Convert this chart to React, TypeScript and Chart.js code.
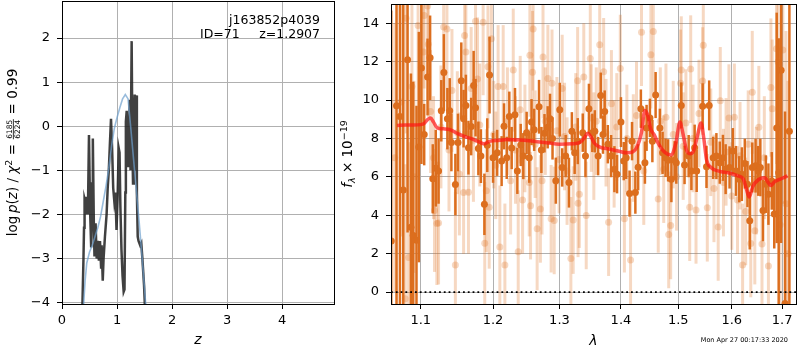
import React, { useEffect, useRef } from "react";
import { Chart, registerables } from "chart.js";
Chart.register(...registerables);

// ---------- left panel: log p(z) ----------
const zTicks = [0, 1, 2, 3, 4];
const logpTicks = [-4, -3, -2, -1, 0, 1, 2];
const smoothZ = [0.39, 0.42, 0.45, 0.5, 0.55, 0.6, 0.65, 0.7, 0.75, 0.8, 0.85, 0.9, 0.95, 1.0, 1.05, 1.1, 1.15, 1.2, 1.25, 1.3, 1.35, 1.4, 1.45, 1.5, 1.53];
const smoothLogP = [-4.1, -3.5, -3.1, -2.85, -2.7, -2.5, -2.3, -2.05, -1.7, -1.35, -0.95, -0.45, -0.05, 0.2, 0.42, 0.62, 0.72, 0.62, -0.05, -0.75, -1.45, -2.15, -2.9, -3.7, -4.2];
const noisyZ = [0.37, 0.39, 0.40, 0.41, 0.42, 0.43, 0.44, 0.45, 0.46, 0.47, 0.49, 0.51, 0.53, 0.545, 0.56, 0.58, 0.59, 0.61, 0.63, 0.65, 0.67, 0.69, 0.71, 0.72, 0.74, 0.755, 0.78, 0.81, 0.83, 0.85, 0.87, 0.89, 0.91, 0.93, 0.95, 0.97, 0.99, 1.01, 1.03, 1.045, 1.06, 1.08, 1.10, 1.12, 1.135, 1.15, 1.16, 1.175, 1.19, 1.20, 1.215, 1.23, 1.245, 1.265, 1.28, 1.29, 1.305, 1.32, 1.335, 1.345, 1.36, 1.375, 1.39, 1.42, 1.44, 1.46, 1.49, 1.51];
const noisyLogP = [-4.1, -3.0, -2.3, -1.65, -1.7, -2.0, -1.6, -2.0, -1.7, -2.0, -0.2, -1.9, -2.75, -1.3, -0.28, -2.4, -2.95, -2.2, -3.0, -2.6, -3.05, -2.6, -3.2, -2.7, -3.5, -3.0, -2.5, -2.0, -1.4, -1.0, -0.4, 0.17, -0.5, -1.4, -1.7, -1.5, -2.35, -1.6, -0.5, -0.6, -1.8, -2.8, -3.4, -3.75, -3.7, -1.5, 0.1, 0.35, -0.3, -0.9, -0.2, 0.6, -1.0, 1.93, -0.6, -1.3, 0.0, 0.72, -1.0, 0.7, -1.5, -2.5, -2.6, -2.7, -2.65, -3.0, -3.6, -4.2];

// ---------- right panel: spectrum ----------
const lamTicks = [1.1, 1.2, 1.3, 1.4, 1.5, 1.6, 1.7];
const fluxTicks = [0, 2, 4, 6, 8, 10, 12, 14];

const darkLam = [
  1.0615, 1.0683, 1.0727, 1.077, 1.0826, 1.087, 1.09, 1.0943, 1.0974, 1.1008,
  1.1045, 1.109, 1.1124, 1.116, 1.12, 1.1238, 1.1275, 1.131, 1.1358, 1.139,
  1.1413, 1.1468, 1.1504, 1.155, 1.1582, 1.1614, 1.165, 1.1688, 1.1723, 1.175,
  1.179, 1.1826, 1.1876, 1.1917, 1.195, 1.2, 1.206, 1.2125, 1.216, 1.22,
  1.2238, 1.2273, 1.2322, 1.2357, 1.2407, 1.2446, 1.2496, 1.2535, 1.257, 1.261,
  1.2684, 1.272, 1.2768, 1.2817, 1.2853, 1.2892, 1.2943, 1.3005, 1.3043, 1.3098,
  1.315, 1.3196, 1.324, 1.329, 1.337, 1.3414, 1.347, 1.3525, 1.3566, 1.362,
  1.3663, 1.37, 1.3728, 1.378, 1.3835, 1.389, 1.3934, 1.4, 1.4047, 1.4088,
  1.4146, 1.4188, 1.4245, 1.4293, 1.434, 1.441, 1.4439, 1.4497, 1.454, 1.4597,
  1.4672, 1.472, 1.4773, 1.4818, 1.4877, 1.4935, 1.4965, 1.5055, 1.5115, 1.519,
  1.524, 1.53, 1.5337, 1.5448, 1.552, 1.557, 1.5645, 1.5706, 1.577, 1.583,
  1.5882, 1.5957, 1.602, 1.608, 1.6145, 1.6195, 1.6253, 1.6305, 1.635, 1.64,
  1.6465, 1.6517, 1.656, 1.6613, 1.667, 1.6722, 1.679, 1.684, 1.689, 1.693,
  1.698, 1.706, 1.715,
];
const darkFlux = [
  2.66, 9.7, 9.14, 5.31, 12.1, 3.38, 2.95, 2.7, 7.55, 11.67,
  8.2, 11.2, 12.2, 5.9, 6.45, 6.3, 9.44, 11.43, 9.03, 9.44,
  7.79, 5.6, 7.79, 11.0, 9.03, 9.72, 7.52, 8.62, 10.76, 9.6,
  7.48, 7.08, 4.57, 7.65, 11.3, 6.99, 7.25, 6.82, 8.63, 6.99,
  9.14, 7.5, 9.23, 6.31, 7.66, 7.08, 8.29, 6.99, 8.85, 8.45,
  9.65, 7.4, 8.27, 8.58, 9.03, 8.0, 5.8, 9.5, 6.49, 7.08,
  5.7, 8.37, 7.25, 7.86, 8.3, 7.08, 9.55, 8.29, 8.37, 7.08,
  10.23, 8.2, 9.4, 7.7, 7.08, 6.4, 6.14, 8.85, 6.82, 6.99,
  5.13, 7.86, 5.18, 6.5, 9.55, 6.74, 8.55, 9.07, 7.86, 10.26,
  8.55, 7.25, 6.99, 6.86, 5.88, 6.86, 6.74, 9.72, 6.62, 7.08,
  6.31, 7.52, 6.31, 9.67, 6.52, 9.72, 6.99, 7.08, 6.74, 6.99,
  6.4, 6.49, 7.34, 6.31, 5.88, 6.14, 6.69, 5.62, 3.72, 6.49,
  6.58, 6.31, 6.49, 4.25, 5.62, 5.1, 5.79, 4.07, 8.55, 6.22,
  11.55, -0.6, 8.37,
];
const darkErr = [
  12, 11, 10, 10, 9, 8, 8, 7, 6, 5,
  1.6, 2.0, 2.2, 1.8, 2.0, 1.7, 1.6, 2.0, 1.6, 1.7,
  1.5, 1.6, 1.5, 2.0, 1.5, 1.6, 1.4, 1.5, 1.8, 1.5,
  1.4, 1.4, 1.6, 1.4, 2.0, 1.3, 1.2, 1.3, 1.2, 1.1,
  1.3, 1.1, 1.4, 1.2, 1.1, 1.2, 1.1, 1.3, 1.2, 1.1,
  1.4, 1.2, 1.0, 1.1, 1.3, 1.1, 1.2, 1.4, 1.0, 1.1,
  1.3, 1.0, 1.1, 1.2, 1.0, 1.1, 1.3, 1.0, 1.1, 1.0,
  1.2, 1.0, 1.1, 1.0, 1.1, 1.2, 1.0, 1.3, 1.0, 1.1,
  1.2, 1.0, 1.1, 1.2, 1.0, 1.1, 1.2, 1.0, 1.1, 1.2,
  1.0, 1.1, 1.0, 1.1, 1.2, 1.0, 1.1, 1.2, 1.0, 1.1,
  1.0, 1.2, 1.1, 1.2, 1.1, 1.3, 1.1, 1.2, 1.1, 1.2,
  1.3, 1.1, 1.2, 1.3, 1.2, 1.4, 1.3, 1.2, 1.5, 1.3,
  1.4, 1.3, 1.5, 1.6, 1.5, 1.6, 1.5, 1.8, 6, 7,
  9, 10, 12,
];

const lightLam = [
  1.066, 1.074, 1.0796, 1.0807, 1.084, 1.0883, 1.091, 1.0964, 1.1032, 1.1045,
  1.1091, 1.11, 1.113, 1.117, 1.1183, 1.1215, 1.1238, 1.127, 1.1307, 1.1352,
  1.138, 1.1421, 1.1468, 1.1495, 1.1523, 1.1582, 1.1596, 1.1614, 1.165, 1.1688,
  1.172, 1.175, 1.1778, 1.181, 1.1858, 1.1881, 1.1903, 1.1927, 1.1945, 1.1977,
  1.201, 1.204, 1.2074, 1.2099, 1.2148, 1.2173, 1.221, 1.2257, 1.2296, 1.233,
  1.237, 1.24, 1.2435, 1.247, 1.2535, 1.2545, 1.2555, 1.2585, 1.2594, 1.2625,
  1.2655, 1.2705, 1.273, 1.2745, 1.278, 1.282, 1.287, 1.2884, 1.2918, 1.296,
  1.2995, 1.3043, 1.308, 1.312, 1.318, 1.3217, 1.3258, 1.3288, 1.3295, 1.3315,
  1.3387, 1.3426, 1.3492, 1.3508, 1.355, 1.359, 1.3646, 1.3711, 1.375, 1.3793,
  1.384, 1.3885, 1.393, 1.3989, 1.4058, 1.41, 1.4163, 1.421, 1.4265, 1.4351,
  1.439, 1.4514, 1.4556, 1.4643, 1.468, 1.474, 1.478, 1.4829, 1.4864, 1.491,
  1.497, 1.5042, 1.5055, 1.509, 1.514, 1.5209, 1.5227, 1.527, 1.5325, 1.538,
  1.5448, 1.546, 1.5535, 1.56, 1.566, 1.574, 1.578, 1.584, 1.589, 1.5945,
  1.6, 1.605, 1.611, 1.616, 1.621, 1.627, 1.632, 1.637, 1.64, 1.645,
  1.648, 1.653, 1.6593, 1.664, 1.6722, 1.6772, 1.6799, 1.6885, 1.6918, 1.696,
  1.7015, 1.708, 1.712,
];
const lightFlux = [
  7.0, 9.9, -0.35, 14.26, 1.8, 10.7, 6.0, 13.88, 12.5, 14.4,
  14.9, 12.9, 9.4, 7.0, 4.25, 3.57, 3.6, 8.6, 13.8, 13.7,
  7.4, 10.5, 1.41, 8.3, 6.15, 5.19, 13.36, 12.5, 5.2, 10.6,
  7.9, 14.1, 11.1, 8.7, 14.05, 2.54, 5.28, 11.73, 4.42, 13.19,
  8.2, 6.6, 10.7, 2.35, 10.7, 1.41, 8.9, 5.8, 11.56, 7.4,
  2.1, 9.5, 4.8, 8.0, 5.7, 12.33, 4.5, 11.44, 13.7, 7.7,
  3.3, 4.33, 5.8, 12.24, 8.9, 11.12, 3.82, 10.87, 3.73, 8.4,
  6.9, 10.6, 8.1, 6.3, 1.75, 3.75, 8.6, 11.0, 4.62, 5.1,
  11.2, 3.99, 12.16, 9.06, 7.6, 8.9, 12.88, 11.47, 8.3, 3.64,
  9.8, 7.2, 8.6, 11.64, 3.82, 8.0, 1.67, 7.5, 9.2, 13.53,
  6.3, 12.36, 13.57, 4.85, 8.9, 6.4, 9.1, 3.0, 3.47, 8.2,
  6.0, 10.87, 11.56, 7.6, 8.8, 4.42, 11.61, 8.0, 4.28, 9.3,
  10.99, 12.85, 4.39, 7.8, 5.4, 3.39, 9.96, 5.7, 7.3, 9.06,
  5.0, 9.1, 4.8, 7.1, 1.41, 4.2, 7.7, 2.53, 10.4, 3.2,
  5.8, 8.58, 2.5, 7.0, 1.36, 10.65, 9.55, 12.67, 11.99, 3.5,
  12.6, 4.6, 2.0,
];
const lightErr = [
  7, 7, 7, 6, 6, 6, 5, 5, 3.8, 3.8,
  3.8, 3.8, 3.2, 3.2, 3.2, 3.2, 3.2, 3.2, 3.8, 3.8,
  3.2, 3.2, 3.8, 3.2, 3.2, 3.2, 3.8, 3.8, 3.2, 3.2,
  3.2, 3.8, 3.2, 3.2, 3.8, 3.2, 3.2, 3.2, 3.2, 3.2,
  2.8, 2.8, 3.2, 3.2, 3.2, 3.2, 2.8, 2.8, 3.2, 2.8,
  3.2, 2.8, 2.8, 2.8, 2.8, 3.2, 2.8, 3.2, 3.2, 2.8,
  3.2, 2.8, 2.8, 3.2, 2.8, 2.8, 2.8, 2.8, 2.8, 2.8,
  2.8, 2.8, 2.8, 2.8, 3.2, 2.8, 2.8, 2.8, 2.8, 2.8,
  2.8, 2.8, 2.8, 2.8, 2.8, 2.8, 2.8, 2.8, 2.8, 2.8,
  2.8, 2.8, 2.8, 2.8, 2.8, 2.8, 3.2, 2.8, 2.8, 2.8,
  2.8, 2.8, 3.2, 2.8, 2.8, 2.8, 2.8, 2.8, 2.8, 2.8,
  2.8, 2.8, 2.8, 2.8, 2.8, 2.8, 2.8, 2.8, 2.8, 2.8,
  2.8, 3.2, 2.8, 2.8, 2.8, 2.8, 2.8, 2.8, 2.8, 2.8,
  2.8, 2.8, 2.8, 2.8, 3.2, 2.8, 2.8, 2.8, 3.2, 2.8,
  2.8, 3.2, 3.2, 3.2, 3.6, 3.6, 3.6, 6, 6, 7,
  8, 9, 9,
];

const modelLam = [1.069, 1.08, 1.09, 1.1, 1.105, 1.109, 1.113, 1.117, 1.122, 1.13, 1.14, 1.15, 1.16, 1.17, 1.18, 1.187, 1.195, 1.21, 1.22, 1.24, 1.26, 1.28, 1.3, 1.32, 1.333, 1.34, 1.345, 1.35, 1.356, 1.365, 1.38, 1.395, 1.41, 1.42, 1.428, 1.435, 1.441, 1.446, 1.451, 1.457, 1.465, 1.475, 1.487, 1.496, 1.503, 1.509, 1.515, 1.522, 1.528, 1.534, 1.542, 1.547, 1.552, 1.56, 1.575, 1.595, 1.612, 1.622, 1.628, 1.634, 1.641, 1.652, 1.665, 1.672, 1.677, 1.685, 1.698, 1.711];
const modelFlux = [8.68, 8.7, 8.7, 8.72, 8.8, 8.98, 9.06, 8.85, 8.55, 8.5, 8.45, 8.25, 8.1, 7.98, 7.82, 7.72, 7.85, 7.9, 7.95, 7.92, 7.85, 7.78, 7.7, 7.72, 7.8, 8.05, 8.27, 8.1, 7.75, 7.55, 7.45, 7.35, 7.25, 7.3, 7.6, 8.3, 9.45, 9.2, 8.5, 8.2, 7.7, 7.3, 7.14, 7.8, 8.85, 8.2, 7.4, 7.2, 7.35, 8.0, 8.8, 8.0, 6.9, 6.5, 6.3, 6.2, 6.05, 5.9, 5.4, 4.95, 5.5, 5.85, 5.95, 5.7, 5.55, 5.75, 5.9, 6.05];

const zeroLam = [1.0612, 1.7287];
const zeroFlux = [0, 0];

const FONT = "DejaVu Sans";
const DARK = "rgb(220,110,30)";
const LIGHT = "rgba(220,110,30,0.27)";

const pts = (xs: number[], ys: number[]) => xs.map((x, i) => ({ x, y: ys[i] }));

const fixBox = (w?: number, h?: number) => (scale: any) => {
  if (w !== undefined) scale.width = w;
  if (h !== undefined) scale.height = h;
  scale.paddingTop = 0;
  scale.paddingBottom = 0;
  scale.paddingLeft = 0;
  scale.paddingRight = 0;
};
const setTicks = (vals: number[]) => (scale: any) => {
  scale.ticks = vals.map((v) => ({ value: v }));
};
const fmtMinus = (v: any) => {
  const n = Number(v);
  return n < 0 ? "\u2212" + Math.abs(n) : String(n);
};

const errorBarPlugin = {
  id: "errbars",
  beforeDatasetDraw(chart: any, args: any) {
    const ds = chart.data.datasets[args.index];
    if (!ds.errs) return;
    const { ctx, chartArea: a, scales } = chart;
    ctx.save();
    ctx.beginPath();
    ctx.rect(a.left, a.top, a.right - a.left, a.bottom - a.top);
    ctx.clip();
    ctx.strokeStyle = ds.errColor;
    ctx.lineWidth = ds.errWidth;
    ds.data.forEach((p: any, i: number) => {
      const px = scales.x.getPixelForValue(p.x);
      ctx.beginPath();
      ctx.moveTo(px, scales.y.getPixelForValue(p.y - ds.errs[i]));
      ctx.lineTo(px, scales.y.getPixelForValue(p.y + ds.errs[i]));
      ctx.stroke();
    });
    ctx.restore();
  },
};

type Run = { t: string; f: string; dy?: number; frac?: [string, string] };
function drawRuns(ctx: CanvasRenderingContext2D, runs: Run[], cx: number, cy: number) {
  ctx.save();
  ctx.translate(cx, cy);
  ctx.rotate(-Math.PI / 2);
  ctx.fillStyle = "#000";
  ctx.textBaseline = "alphabetic";
  ctx.textAlign = "left";
  const widths = runs.map((r) => {
    ctx.font = r.f;
    if (r.frac) return Math.max(ctx.measureText(r.frac[0]).width, ctx.measureText(r.frac[1]).width) + 2;
    return ctx.measureText(r.t).width;
  });
  const total = widths.reduce((s, w) => s + w, 0);
  let x = -total / 2;
  runs.forEach((r, i) => {
    ctx.font = r.f;
    if (r.frac) {
      const w = widths[i];
      const w0 = ctx.measureText(r.frac[0]).width;
      const w1 = ctx.measureText(r.frac[1]).width;
      ctx.fillText(r.frac[0], x + (w - w0) / 2, -4.6);
      ctx.fillText(r.frac[1], x + (w - w1) / 2, 3.8);
      ctx.fillRect(x + 0.5, -3.6, w - 1, 0.8);
    } else {
      ctx.fillText(r.t, x, r.dy || 0);
    }
    x += widths[i];
  });
  ctx.restore();
}

const frame = (ctx: CanvasRenderingContext2D, a: any) => {
  ctx.save();
  ctx.strokeStyle = "#000";
  ctx.lineWidth = 1;
  ctx.strokeRect(Math.floor(a.left) + 0.5, Math.floor(a.top) + 0.5, Math.round(a.right - a.left), Math.round(a.bottom - a.top));
  ctx.restore();
};

const leftDecor = {
  id: "leftDecor",
  afterDraw(chart: any) {
    const { ctx, chartArea: a } = chart;
    frame(ctx, a);
    ctx.save();
    ctx.fillStyle = "#000";
    ctx.font = `12.5px ${FONT}`;
    ctx.textBaseline = "alphabetic";
    ctx.textAlign = "right";
    ctx.fillText("j163852p4039", 320, 24);
    ctx.fillText("z=1.2907", 320, 38);
    ctx.textAlign = "left";
    ctx.fillText("ID=71", 200, 38);
    ctx.textAlign = "center";
    ctx.font = `italic 14px ${FONT}`;
    ctx.fillText("z", (a.left + a.right) / 2, 344);
    ctx.restore();
    const n = `13.5px ${FONT}`;
    const it = `italic 13.5px ${FONT}`;
    const sm = `9.5px ${FONT}`;
    const fr = `7.5px ${FONT}`;
    drawRuns(ctx, [
      { t: "log", f: n },
      { t: "\u2009", f: n },
      { t: "p", f: it },
      { t: "(", f: n },
      { t: "z", f: it },
      { t: ") / ", f: n },
      { t: "\u03c7", f: it },
      { t: "2", f: sm, dy: -5 },
      { t: " = ", f: n },
      { t: "", f: fr, frac: ["6185", "6224"] },
      { t: " = 0.99", f: n },
    ], 16.5, (a.top + a.bottom) / 2);
  },
};

const rightDecor = {
  id: "rightDecor",
  afterDraw(chart: any) {
    const { ctx, chartArea: a } = chart;
    frame(ctx, a);
    ctx.save();
    ctx.fillStyle = "#000";
    ctx.textAlign = "center";
    ctx.textBaseline = "alphabetic";
    ctx.font = `italic 14px ${FONT}`;
    ctx.fillText("\u03bb", (a.left + a.right) / 2, 345);
    ctx.textAlign = "right";
    ctx.font = `6.5px ${FONT}`;
    ctx.fillText("Mon Apr 27 00:17:33 2020", 448, 342);
    ctx.restore();
    drawRuns(ctx, [
      { t: "f", f: `italic 13.5px ${FONT}` },
      { t: "\u03bb", f: `italic 9.5px ${FONT}`, dy: 3 },
      { t: " \u00d7 10", f: `13.5px ${FONT}` },
      { t: "\u221219", f: `9.5px ${FONT}`, dy: -5.5 },
    ], 12, (a.top + a.bottom) / 2);
  },
};

const tickFont = { family: FONT, size: 13 };
const gridOpts = { color: "#b0b0b0", lineWidth: 1, tickLength: 5, tickColor: "#000", tickWidth: 1 };

export default function App() {
  const leftRef = useRef<HTMLCanvasElement>(null);
  const rightRef = useRef<HTMLCanvasElement>(null);

  useEffect(() => {
    const c1 = new Chart(leftRef.current!, {
      type: "scatter",
      data: {
        datasets: [
          {
            data: pts(smoothZ, smoothLogP),
            showLine: true,
            borderColor: "rgba(110,160,205,0.7)",
            borderWidth: 1.6,
            pointRadius: 0,
            order: 1,
          } as any,
          {
            data: pts(noisyZ, noisyLogP),
            showLine: true,
            borderColor: "rgba(30,30,30,0.85)",
            borderWidth: 2.5,
            pointRadius: 0,
            order: 2,
          } as any,
        ],
      },
      options: {
        responsive: false,
        animation: false,
        events: [],
        layout: { padding: { top: 1, right: 6, left: 0, bottom: 0 } },
        plugins: { legend: { display: false }, tooltip: { enabled: false } },
        scales: {
          x: {
            type: "linear",
            min: 0,
            max: 4.94,
            afterBuildTicks: setTicks(zTicks),
            afterFit: fixBox(undefined, 46),
            border: { display: false },
            grid: gridOpts,
            ticks: { font: tickFont, color: "#000", padding: 4, callback: fmtMinus, maxRotation: 0 },
          },
          y: {
            type: "linear",
            min: -4.03,
            max: 2.84,
            afterBuildTicks: setTicks(logpTicks),
            afterFit: fixBox(62, undefined),
            border: { display: false },
            grid: gridOpts,
            ticks: { font: tickFont, color: "#000", padding: 7, callback: fmtMinus },
          },
        },
      },
      plugins: [leftDecor],
    });

    const c2 = new Chart(rightRef.current!, {
      type: "scatter",
      data: {
        datasets: [
          {
            data: pts(lightLam, lightFlux),
            errs: lightErr,
            errColor: LIGHT,
            errWidth: 3,
            pointRadius: 3.5,
            pointBackgroundColor: LIGHT,
            pointBorderWidth: 0,
            order: 4,
          } as any,
          {
            data: pts(darkLam, darkFlux),
            errs: darkErr,
            errColor: DARK,
            errWidth: 2.5,
            pointRadius: 3.5,
            pointBackgroundColor: DARK,
            pointBorderWidth: 0,
            order: 3,
          } as any,
          {
            data: pts(modelLam, modelFlux),
            showLine: true,
            borderColor: "rgba(255,20,20,0.7)",
            borderWidth: 3.5,
            pointRadius: 0,
            cubicInterpolationMode: "monotone",
            order: 2,
          } as any,
          {
            data: pts(zeroLam, zeroFlux),
            showLine: true,
            borderColor: "#000",
            borderWidth: 1.8,
            borderDash: [1.8, 3],
            pointRadius: 0,
            order: 1,
          } as any,
        ],
      },
      options: {
        responsive: false,
        animation: false,
        events: [],
        layout: { padding: { top: 1, right: 1, left: 0, bottom: 0 } },
        plugins: { legend: { display: false }, tooltip: { enabled: false } },
        scales: {
          x: {
            type: "logarithmic",
            min: 1.0612,
            max: 1.7287,
            afterBuildTicks: setTicks(lamTicks),
            afterFit: fixBox(undefined, 46),
            border: { display: false },
            grid: gridOpts,
            ticks: { font: tickFont, color: "#000", padding: 4, maxRotation: 0, callback: (v: any) => Number(v).toFixed(1) },
          },
          y: {
            type: "linear",
            min: -0.62,
            max: 15.0,
            afterBuildTicks: setTicks(fluxTicks),
            afterFit: fixBox(51, undefined),
            border: { display: false },
            grid: gridOpts,
            ticks: { font: tickFont, color: "#000", padding: 7, callback: (v: any) => String(v) },
          },
        },
      },
      plugins: [errorBarPlugin, rightDecor],
    });

    return () => {
      c1.destroy();
      c2.destroy();
    };
  }, []);

  return (
    <div style={{ position: "absolute", left: 0, top: 0, width: 800, height: 350, background: "#fff" }}>
      <canvas ref={leftRef} width={340} height={350} style={{ position: "absolute", left: 0, top: 0, width: 340, height: 350 }} />
      <canvas ref={rightRef} width={460} height={350} style={{ position: "absolute", left: 340, top: 0, width: 460, height: 350 }} />
    </div>
  );
}
